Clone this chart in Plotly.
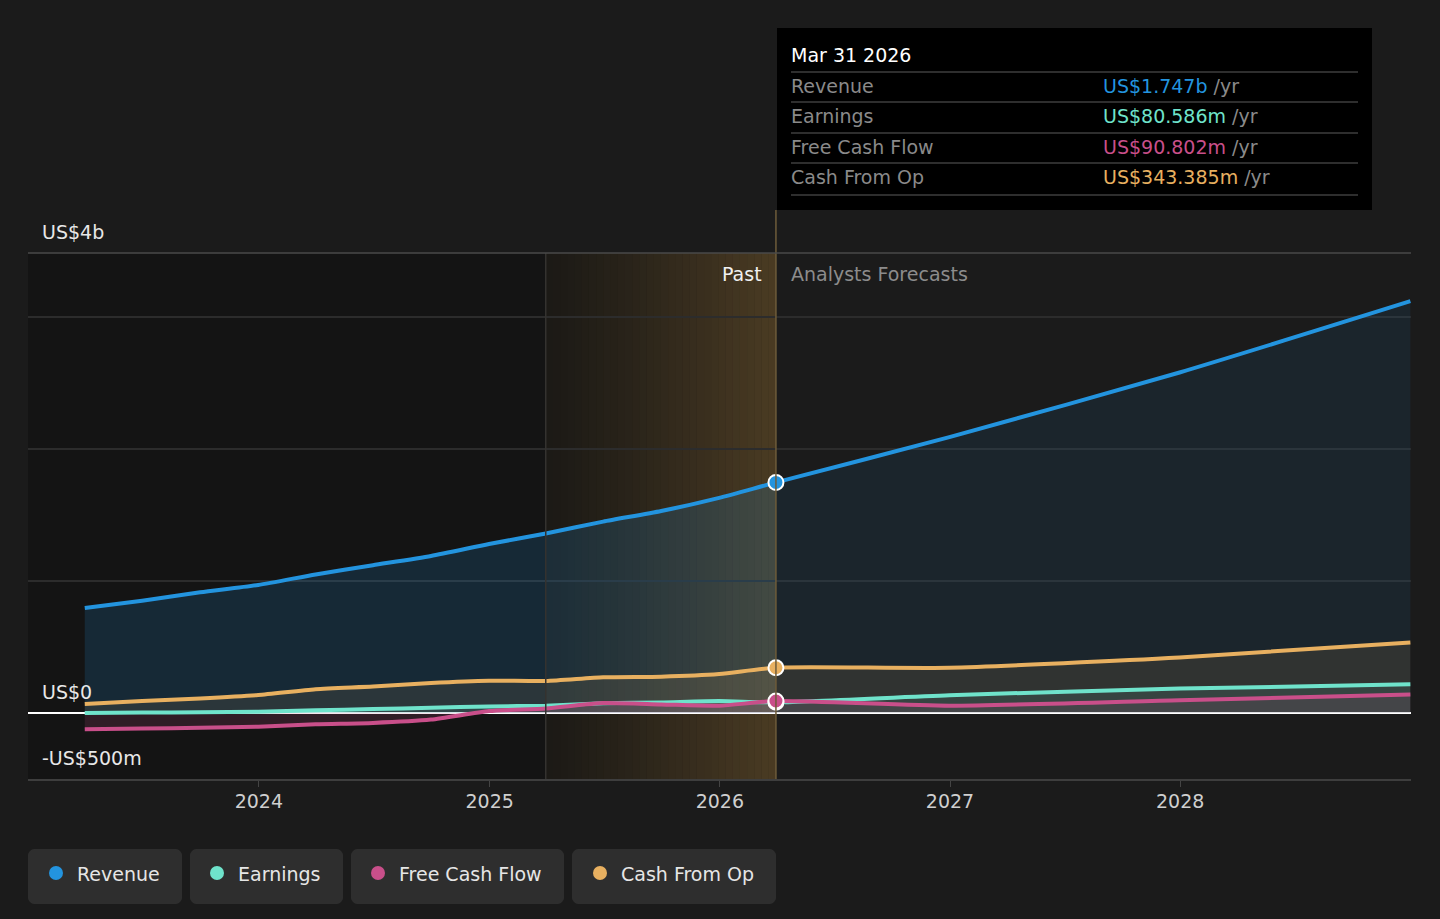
import plotly.graph_objects as go
import pandas as pd

# quarterly history (trailing twelve months) + analyst forecasts, US$ billions
past_dates = ["2023-03-31", "2023-06-30", "2023-09-30", "2023-12-31",
              "2024-03-31", "2024-06-30", "2024-09-30", "2024-12-31",
              "2025-03-31", "2025-06-30", "2025-09-30", "2025-12-31",
              "2026-03-31"]
fc_dates = ["2026-03-31", "2026-12-31", "2027-12-31", "2028-12-31"]

revenue_past = [0.795, 0.85, 0.915, 0.97, 1.05, 1.12, 1.19, 1.28, 1.36, 1.45, 1.53, 1.63, 1.747]
earnings_past = [0.0, 0.003, 0.006, 0.01, 0.02, 0.03, 0.04, 0.05, 0.055, 0.073, 0.08, 0.09, 0.0806]
fcf_past = [-0.124, -0.118, -0.112, -0.104, -0.085, -0.075, -0.05, 0.015, 0.035, 0.075, 0.065, 0.055, 0.0908]
cfo_past = [0.068, 0.09, 0.11, 0.136, 0.18, 0.20, 0.228, 0.245, 0.242, 0.27, 0.275, 0.295, 0.343]

revenue_fc = [1.747, 2.09, 2.58, 3.12]
earnings_fc = [0.0806, 0.135, 0.185, 0.217]
fcf_fc = [0.0908, 0.055, 0.097, 0.14]
cfo_fc = [0.343, 0.343, 0.42, 0.535]

now_date = "2026-03-31"
band_start = "2025-03-31"
x_start, x_end = "2022-12-31", "2029-01-01"
y_min, y_max = -0.5, 3.485

tip_title = "Mar 31 2026"
tip_rows = [("Revenue", "US$1.747b", "#2394df"),
            ("Earnings", "US$80.586m", "#6fe3cb"),
            ("Free Cash Flow", "US$90.802m", "#c94f8a"),
            ("Cash From Op", "US$343.385m", "#e8b060")]

BG = "#1b1b1b"
FONT = "DejaVu Sans"
FS = 19
C_REV, C_EARN, C_FCF, C_CFO = "#2394df", "#6fe3cb", "#c94f8a", "#e8b060"

# plot area in pixels: x 28..1411, y 253..779
L, R, T, B = 28, 1411, 253, 779


def px(p):
    return (p - L) / (R - L)


def py(p):
    return (B - p) / (B - T)


def rgba(hexc, a):
    h = hexc.lstrip("#")
    return "rgba(%d,%d,%d,%s)" % (int(h[0:2], 16), int(h[2:4], 16), int(h[4:6], 16), a)


fig = go.Figure()

series = [
    ("Revenue", revenue_past, revenue_fc, C_REV, 0.17, 0.09),
    ("Cash From Op", cfo_past, cfo_fc, C_CFO, 0.10, 0.10),
    ("Earnings", earnings_past, earnings_fc, C_EARN, 0.10, 0.10),
    ("Free Cash Flow", fcf_past, fcf_fc, C_FCF, 0.16, 0.10),
]

# fills first
for name, yp, yf, col, ap, af in series:
    fig.add_trace(go.Scatter(x=past_dates, y=yp, mode="lines", line=dict(width=0, shape="spline"),
                             fill="tozeroy", fillcolor=rgba(col, ap), hoverinfo="skip", showlegend=False))
    fig.add_trace(go.Scatter(x=fc_dates, y=yf, mode="lines", line=dict(width=0, shape="spline"),
                             fill="tozeroy", fillcolor=rgba(col, af), hoverinfo="skip", showlegend=False))

# lines
for name, yp, yf, col, ap, af in series:
    fig.add_trace(go.Scatter(x=past_dates + fc_dates[1:], y=yp + yf[1:], mode="lines", name=name,
                             line=dict(color=col, width=4, shape="spline", smoothing=0.6),
                             showlegend=False))

# markers at the current date
for name, yp, yf, col, ap, af in series:
    fig.add_trace(go.Scatter(x=[now_date], y=[yp[-1]], mode="markers",
                             marker=dict(color=col, size=15, line=dict(color="white", width=2)),
                             showlegend=False, hoverinfo="skip"))

shapes = []
# darker past region
shapes.append(dict(type="rect", xref="x", yref="paper", x0=x_start, x1=now_date, y0=0, y1=1,
                   fillcolor="#141414", line_width=0, layer="below"))
# gradient band for the last year
n = 32
edges = pd.date_range(band_start, now_date, periods=n + 1)
for i in range(n):
    a = 0.05 + 0.25 * (i / (n - 1)) ** 1.2
    shapes.append(dict(type="rect", xref="x", yref="paper", x0=edges[i], x1=edges[i + 1], y0=0, y1=1,
                       fillcolor="rgba(200,150,70,%.3f)" % a, line_width=0, layer="below"))
shapes.append(dict(type="line", xref="x", yref="paper", x0=band_start, x1=band_start, y0=0, y1=1,
                   line=dict(color="#353330", width=1.5)))
shapes.append(dict(type="line", xref="x", yref="paper", x0=now_date, x1=now_date, y0=0, y1=py(210),
                   line=dict(color="#6e5c3a", width=1.5)))
# top border
shapes.append(dict(type="line", xref="paper", yref="paper", x0=0, x1=1, y0=1, y1=1,
                   line=dict(color="#4a4a4a", width=1.5)))

# tooltip box
shapes.append(dict(type="rect", xref="paper", yref="paper", x0=px(777), x1=px(1372), y0=py(210), y1=py(28),
                   fillcolor="#000000", line_width=0))
for yy in [72, 102, 133, 163, 195]:
    shapes.append(dict(type="line", xref="paper", yref="paper", x0=px(791), x1=px(1358), y0=py(yy), y1=py(yy),
                       line=dict(color="#3e3e3e", width=1.5)))


def rounded(x0, y0, x1, y1, r):
    # pixel coords -> paper path with rounded corners
    k = 0.45 * r
    return ("M {a},{b} L {c},{b} C {c2},{b} {d},{e2} {d},{e} L {d},{f} C {d},{f2} {c2},{g} {c},{g} "
            "L {a},{g} C {a2},{g} {h},{f2} {h},{f} L {h},{e} C {h},{e2} {a2},{b} {a},{b} Z").format(
        a=px(x0 + r), b=py(y0), c=px(x1 - r), c2=px(x1 - r + k), d=px(x1), e=py(y0 + r), e2=py(y0 + r - k),
        f=py(y1 - r), f2=py(y1 - r + k), g=py(y1), a2=px(x0 + r - k), h=px(x0))


legend_boxes = [(28, 182, 56, "Revenue", C_REV), (190, 343, 217, "Earnings", C_EARN),
                (351, 564, 378, "Free Cash Flow", C_FCF), (572, 776, 600, "Cash From Op", C_CFO)]
annotations = []
for x0, x1, cx, label, col in legend_boxes:
    shapes.append(dict(type="path", xref="paper", yref="paper", path=rounded(x0, 849, x1, 904, 6),
                       fillcolor="#2e2e2e", line_width=0))
    shapes.append(dict(type="circle", xref="paper", yref="paper", x0=px(cx - 7), x1=px(cx + 7),
                       y0=py(880), y1=py(866), fillcolor=col, line_width=0))
    annotations.append(dict(xref="paper", yref="paper", x=px(cx + 19), y=py(874), text=label,
                            xanchor="left", yanchor="middle", showarrow=False,
                            font=dict(family=FONT, size=FS, color="#e6e6e6")))

# y labels
for txt, yy in [("US$4b", 232), ("US$0", 692), ("-US$500m", 758)]:
    annotations.append(dict(xref="paper", yref="paper", x=px(40), y=py(yy), text=txt, xanchor="left",
                            yanchor="middle", showarrow=False, font=dict(family=FONT, size=FS, color="#e8e8e8")))

annotations.append(dict(xref="paper", yref="paper", x=px(764), y=py(274), text="Past", xanchor="right",
                        yanchor="middle", showarrow=False, font=dict(family=FONT, size=FS, color="#f0f0f0")))
annotations.append(dict(xref="paper", yref="paper", x=px(789), y=py(274), text="Analysts Forecasts",
                        xanchor="left", yanchor="middle", showarrow=False,
                        font=dict(family=FONT, size=FS, color="#8c8c8c")))

# tooltip texts
annotations.append(dict(xref="paper", yref="paper", x=px(789), y=py(55), text=tip_title, xanchor="left",
                        yanchor="middle", showarrow=False, font=dict(family=FONT, size=FS, color="#ffffff")))
for (lab, val, col), yy in zip(tip_rows, [86, 116, 147, 177]):
    annotations.append(dict(xref="paper", yref="paper", x=px(789), y=py(yy), text=lab, xanchor="left",
                            yanchor="middle", showarrow=False, font=dict(family=FONT, size=FS, color="#8a8a8a")))
    annotations.append(dict(xref="paper", yref="paper", x=px(1101), y=py(yy),
                            text="<span style='color:%s'>%s</span> /yr" % (col, val), xanchor="left",
                            yanchor="middle", showarrow=False, font=dict(family=FONT, size=FS, color="#8a8a8a")))

fig.update_layout(
    width=1440, height=919,
    margin=dict(l=L, r=1440 - R, t=T, b=919 - B),
    paper_bgcolor=BG, plot_bgcolor=BG,
    font=dict(family=FONT, color="#cfcfcf"),
    shapes=shapes, annotations=annotations,
    showlegend=False,
    xaxis=dict(range=[x_start, x_end], tickvals=["2024-01-01", "2025-01-01", "2026-01-01", "2027-01-01", "2028-01-01"],
               ticktext=["2024", "2025", "2026", "2027", "2028"], showgrid=False, ticks="outside", ticklen=6,
               ticklabelstandoff=-2,
               tickcolor="#444444", tickfont=dict(size=FS, color="#cfcfcf"), showline=True,
               linecolor="#3e3e3e", linewidth=1.5, zeroline=False),
    yaxis=dict(range=[y_min, y_max], tickvals=[0, 1, 2, 3], showticklabels=False, gridcolor="#2c2c2c",
               gridwidth=1.5, zeroline=True, zerolinecolor="#ffffff", zerolinewidth=1.5, showline=False),
)

# drop the browser's default page margin so the figure sits at the window origin
fig.write_html("out.html", config={"displayModeBar": False},
               post_script="document.body.style.margin='0';document.body.style.background='#1b1b1b';")
